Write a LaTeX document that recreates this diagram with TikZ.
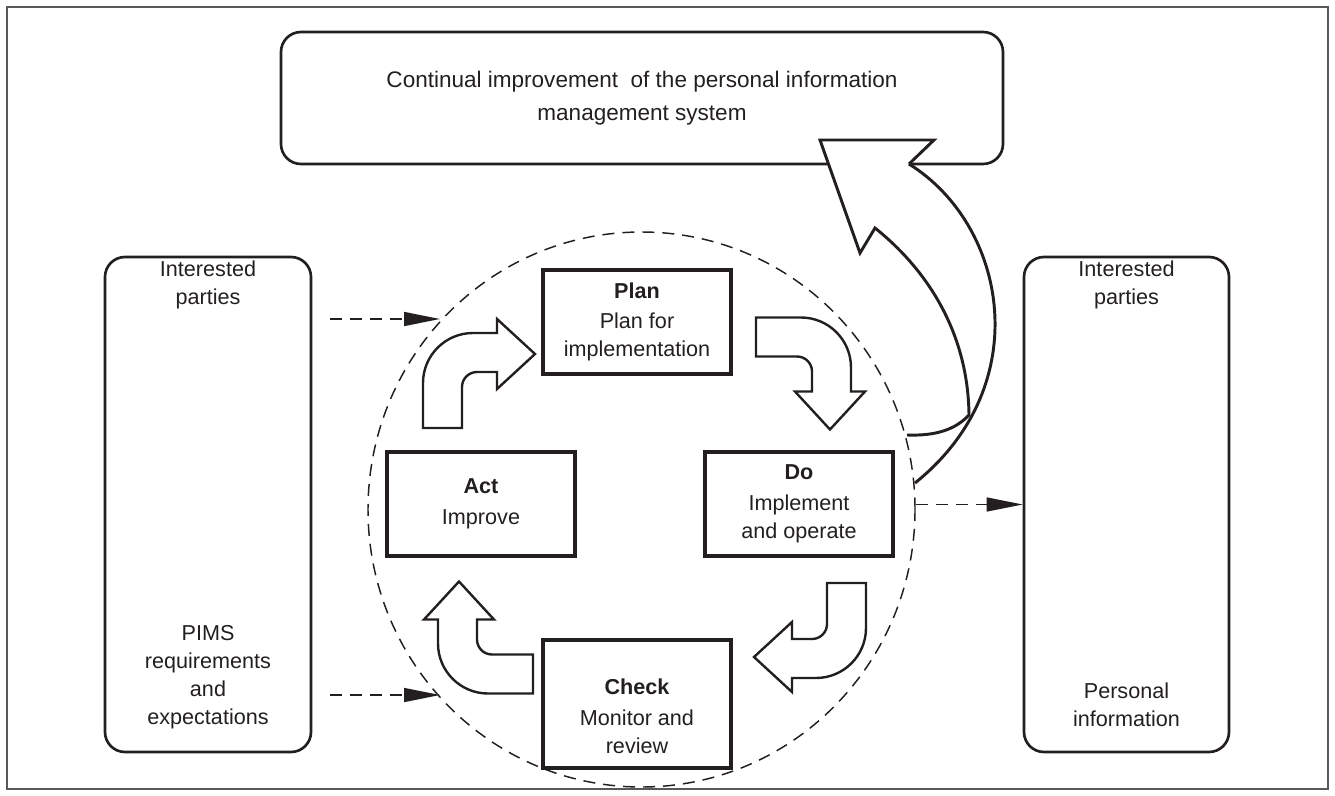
\documentclass[tikz,border=0pt]{standalone}
\usepackage{fontspec}
\setmainfont{Liberation Sans}
\usetikzlibrary{arrows.meta,shapes.geometric}
\definecolor{ink}{HTML}{231F20}
\begin{document}
\begin{tikzpicture}[x=0.75pt,y=-0.75pt,
  every node/.style={text=ink, font=\fontsize{16.2}{21}\selectfont, align=center},
  procbox/.style={draw=ink, line width=2.3pt, minimum width=141pt, minimum height=78pt, inner sep=0pt},
  roundbox/.style={draw=ink, line width=2pt, rounded corners=15pt, inner sep=0pt},
  txt/.style={inner sep=0pt},
  dasharrow/.style={draw=ink, line width=1.1pt, dash pattern=on 9pt off 6pt, -{Triangle[length=27pt,width=10.5pt]}},
  blockarrow/.style={draw=ink, line width=1.8pt, fill=white, line join=miter},
  curvearrow/.style={draw=ink, line width=2.2pt, line join=miter},
  bentarrow/.pic={
    \path[blockarrow] (-19.5,0) -- (-19.5,-45)
      .. controls (-19.5,-72.6) and (2.9,-95) .. (30.5,-95)
      -- (54.5,-95) -- (54.5,-109) -- (92.5,-74) -- (54.5,-39) -- (54.5,-56) -- (34.5,-56)
      .. controls (26.2,-56) and (19.5,-49.3) .. (19.5,-41)
      -- (19.5,0) -- cycle;
  }
]
\useasboundingbox (0,0) rectangle (1335,796);
\draw[draw=black!65, line width=1.1pt] (7,7) rectangle (1328,789);

% dashed PDCA circle
\node[draw=ink, ellipse, dash pattern=on 9pt off 6pt, line width=1.1pt,
      minimum width=410.25pt, minimum height=416.25pt, inner sep=0pt] (pdca) at (641.5,509.5) {};

% top box
\node[roundbox, minimum width=541.5pt, minimum height=99pt,
      font=\fontsize{16.9}{21}\selectfont] (goal) at (642,98)
  {Continual improvement\ \ of the personal information\\[3.5pt]management system};

% side boxes
\node[roundbox, minimum width=154.5pt, minimum height=371.25pt] (lbox) at (208,504.5) {};
\node[roundbox, minimum width=153.75pt, minimum height=371.25pt] (rbox) at (1126.5,504.5) {};
\node[txt] (lt1) at (208,285) {Interested\\parties};
\node[txt] (lt2) at (208,677.5) {PIMS\\requirements\\and\\expectations};
\node[txt] (rt1) at (1126.5,285) {Interested\\parties};
\node[txt] (rt2) at (1126.5,705) {Personal\\information};

% process boxes
\node[procbox] (plan) at (637,322) {\textbf{Plan}\\[1pt]Plan for\\implementation};
\node[procbox] (do) at (799,504) {\textbf{Do}\\[2pt]Implement\\and operate};
\node[procbox] (act) at (481,504) {\textbf{Act}\\[2pt]Improve};
\node[procbox, minimum height=96pt] (check) at (637,704) {};
\node[txt] (checktext) at (637,716) {\textbf{Check}\\[2pt]Monitor and\\review};

% block arrows
\pic at (442.5,428) {bentarrow};
\pic[rotate=-90] at (756,337) {bentarrow};
\pic[rotate=180] at (846.5,583) {bentarrow};
\pic[rotate=90] at (533,674) {bentarrow};

% big curved arrow
\fill[white] (820,140) -- (934,140) -- (909,164) -- (875,228) -- (860,253) -- cycle;
\draw[curvearrow] (909,164) -- (934,140) -- (820,140) -- (860,253) -- (875,228)
   .. controls (925,268) and (968,330) .. (969,415)
   .. controls (955,430) and (935,436) .. (907,435);
\draw[curvearrow] (909,164) .. controls (1007,225) and (1037,385) .. (915,483);

% dashed arrows
\coordinate (ls1) at (330,319);
\coordinate (le1) at (440,319);
\coordinate (ls2) at (330,695);
\coordinate (le2) at (440,695);
\coordinate (rs) at (916,504.5);
\draw[dasharrow] (ls1) -- (le1);
\draw[dasharrow] (ls2) -- (le2);
\draw[dasharrow] (rs) -- (rbox.west);
\end{tikzpicture}
\end{document}
